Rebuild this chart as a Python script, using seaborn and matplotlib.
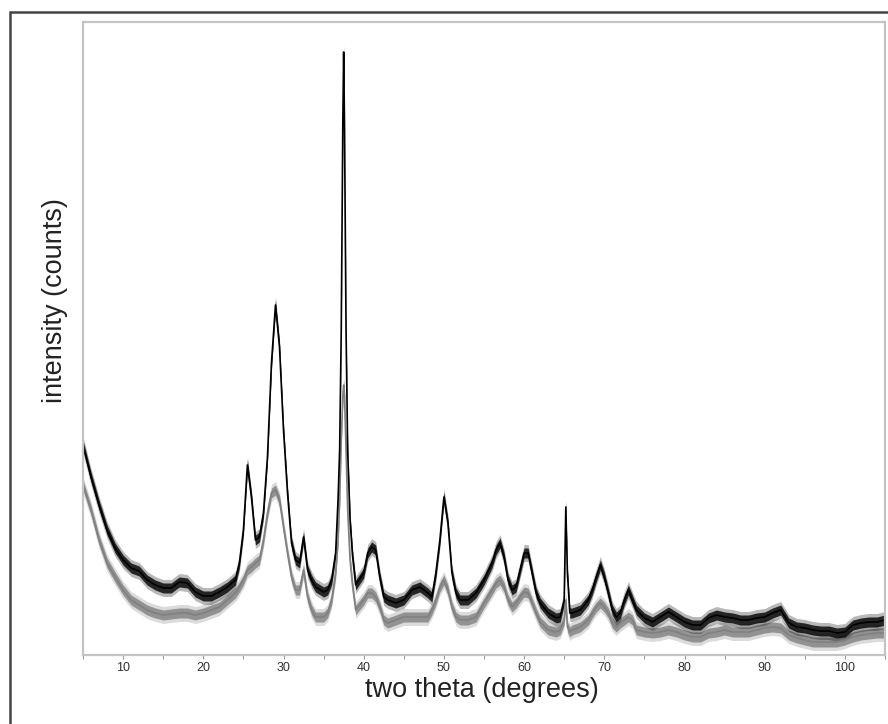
import matplotlib
matplotlib.use("Agg")
import matplotlib.pyplot as plt
from matplotlib.patches import Rectangle
import numpy as np
import pandas as pd
import seaborn as sns

# Diffraction angle (two theta, degrees)
two_theta = [
    5, 6, 7, 8, 9, 10, 11, 12, 13, 14, 15, 16, 17, 18, 19, 20, 21, 22, 23, 24,
    24.5, 25, 25.5, 26, 26.5, 27, 27.5, 28, 28.5, 29, 29.5, 30, 30.5, 31, 31.5,
    32, 32.5, 33, 33.5, 34, 35, 35.5, 36, 36.5, 36.8, 37.0, 37.2, 37.4, 37.5,
    37.6, 37.8, 38.0, 38.3, 38.6, 39, 40, 40.5, 41, 41.5, 42, 42.5, 43, 44, 45,
    46, 47, 48, 48.5, 49, 49.5, 50, 50.5, 51, 51.5, 52, 53, 54, 55, 56, 56.5,
    57, 57.5, 58, 58.5, 59, 59.5, 60, 60.5, 61, 61.5, 62, 63, 64, 64.5, 65,
    65.2, 65.4, 65.7, 66, 67, 68, 68.5, 69, 69.5, 70, 70.5, 71, 71.5, 72, 72.5,
    73, 73.5, 74, 75, 76, 77, 78, 79, 80, 81, 82, 83, 84, 85, 86, 87, 88, 89,
    90, 91, 92, 93, 94, 95, 96, 97, 98, 99, 100, 101, 102, 103, 104, 105,
]

# Intensity of the upper (black) pattern
intensity_black = [
    210, 178, 150, 125, 107, 95, 87, 84, 75, 70, 67, 67, 73, 72, 63, 59, 59, 63, 68, 75,
    92, 125, 190, 158, 115, 118, 142, 198, 292, 350, 308, 225, 162, 112, 95,
    92, 118, 85, 75, 68, 63, 65, 75, 102, 155, 205, 325, 535, 603,
    535, 325, 205, 135, 100, 70, 82, 102, 108, 105, 78, 58, 55, 52, 55,
    65, 68, 62, 58, 82, 115, 158, 132, 82, 62, 55, 55, 62, 75, 92, 105,
    112, 98, 75, 65, 68, 85, 102, 102, 82, 62, 52, 42, 37, 38, 55,
    148, 82, 42, 42, 45, 55, 65, 78, 90, 78, 62, 45, 38, 42, 55,
    65, 55, 45, 37, 33, 38, 43, 38, 33, 30, 30, 37, 40, 38, 37, 35, 35, 37,
    38, 42, 45, 32, 28, 27, 25, 24, 24, 22, 23, 30, 32, 33, 33, 35,
]

# Intensity of the lower (grey) pattern
intensity_grey = [
    170, 145, 115, 92, 78, 65, 55, 50, 45, 42, 40, 41, 42, 42, 40, 42, 45, 48, 55, 62,
    68, 75, 85, 88, 92, 95, 115, 142, 162, 165, 155, 128, 102, 78, 65,
    65, 85, 58, 45, 38, 38, 42, 55, 82, 115, 155, 215, 260, 270,
    260, 205, 145, 95, 70, 45, 55, 62, 62, 58, 48, 35, 32, 35, 38,
    38, 38, 38, 45, 55, 68, 75, 65, 48, 38, 35, 35, 38, 52, 65, 72,
    75, 68, 55, 48, 52, 58, 63, 62, 52, 42, 33, 25, 23, 25, 35,
    55, 28, 23, 25, 28, 35, 42, 48, 52, 48, 42, 32, 28, 32, 35,
    38, 35, 25, 23, 22, 23, 25, 23, 20, 18, 18, 22, 23, 25, 23, 23, 23, 25,
    27, 28, 27, 20, 17, 15, 13, 13, 13, 13, 15, 18, 20, 21, 22, 22,
]

x_ticks = [10, 20, 30, 40, 50, 60, 70, 80, 90, 100]

sns.set_theme(style="white")
plt.rcParams["font.family"] = ["Liberation Sans", "DejaVu Sans"]

df = pd.DataFrame({"two_theta": two_theta,
                   "black": intensity_black,
                   "grey": intensity_grey})

fig = plt.figure(figsize=(8.88, 7.24), dpi=100)
ax = fig.add_axes([83 / 888, 1 - 655 / 724, 802 / 888, 633 / 724])

# Each scan drawn as a noisy band: a soft outer halo and a dense core
for col, colour in (("grey", "#808080"), ("black", "#000000")):
    y = df[col].to_numpy(dtype=float)
    ax.fill_between(df["two_theta"], y - 8.5, y + 8.5, color=colour,
                    alpha=0.28, linewidth=0)
    ax.fill_between(df["two_theta"], y - 5, y + 5, color=colour,
                    alpha=0.8, linewidth=0)
    sns.lineplot(data=df, x="two_theta", y=col, color=colour,
                 linewidth=1.2, ax=ax, legend=False)

ax.set_xlim(5, 105)
ax.set_ylim(0, 633)
ax.set_xticks(x_ticks)
ax.set_xticks(np.arange(5, 106, 5), minor=True)
ax.set_yticks([])
ax.tick_params(axis="x", which="both", direction="out", length=3, width=0.8,
               color="#9a9a9a", labelsize=9, labelcolor="#333333", pad=2,
               bottom=True)

for spine in ax.spines.values():
    spine.set_color("#c4c4c4")
    spine.set_linewidth(1.6)

ax.set_xlabel("two theta (degrees)", fontsize=19.5, color="#222222")
ax.set_ylabel("intensity (counts)", fontsize=19.5, color="#222222")
ax.xaxis.set_label_coords(0.497, -0.055)
ax.xaxis.label.set_va("center")
ax.yaxis.set_label_coords(-0.035, 0.56)
ax.yaxis.label.set_va("center")

# Outer frame around the figure
fig.patches.append(Rectangle((10 / 888, -0.05), 1.2, 1 - 12 / 724 + 0.05,
                             transform=fig.transFigure, fill=False,
                             edgecolor="#444444", linewidth=1.8))

fig.savefig("out.png", dpi=100)
